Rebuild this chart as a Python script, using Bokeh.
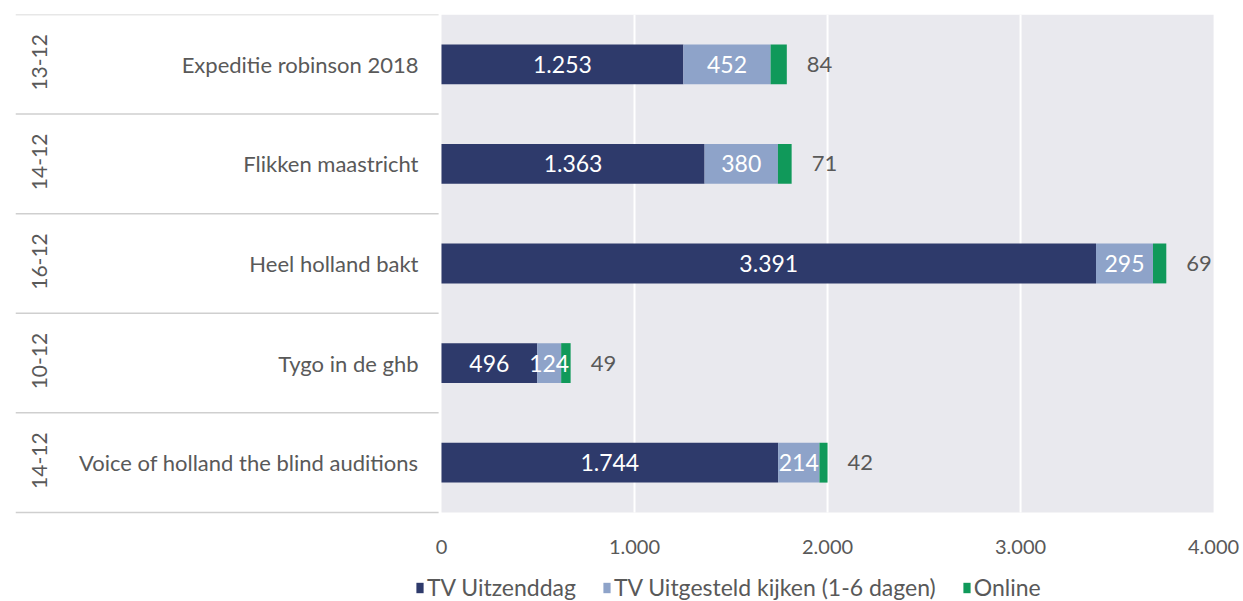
import math
from bokeh.plotting import figure
from bokeh.models import ColumnDataSource, Range1d, FixedTicker, Legend, LegendItem
from bokeh.core.properties import value
from bokeh.embed import file_html
from bokeh.resources import INLINE

# ---- data ----
dates = ["13-12", "14-12", "16-12", "10-12", "14-12"]
programs = ["Expeditie robinson 2018", "Flikken maastricht", "Heel holland bakt",
            "Tygo in de ghb", "Voice of holland the blind auditions"]
tv_day = [1253, 1363, 3391, 496, 1744]
tv_delayed = [452, 380, 295, 124, 214]
online = [84, 71, 69, 49, 42]
series_names = ["TV Uitzenddag", "TV Uitgesteld kijken (1-6 dagen)", "Online"]
x_ticks = [0, 1000, 2000, 3000, 4000]
x_tick_labels = ["0", "1.000", "2.000", "3.000", "4.000"]

# ---- style ----
NAVY = "#2E3A6B"
LIGHT = "#8EA3C9"
GREEN = "#10995A"
TXT = "#595959"
FONT = "Lato"
BG = "#E9E9EE"

n = len(programs)
ys = [n - 0.5 - i for i in range(n)]

def fmt(v):
    return f"{v:,}".replace(",", ".")

left1 = [0] * n
right1 = tv_day
left2 = tv_day
right2 = [a + b for a, b in zip(tv_day, tv_delayed)]
left3 = right2
right3 = [a + b for a, b in zip(right2, online)]

X_START, X_END = -2207, 4155
Y_START = -0.894  # room below the rows for the axis labels and legend

src = ColumnDataSource(dict(
    y=ys, l1=left1, r1=right1, l2=left2, r2=right2, l3=left3, r3=right3,
    m1=[(a + b) / 2 for a, b in zip(left1, right1)],
    m2=[(a + b) / 2 for a, b in zip(left2, right2)],
    t1=[fmt(v) for v in tv_day], t2=[fmt(v) for v in tv_delayed], t3=[fmt(v) for v in online],
    prog=programs, date=dates, zero=[0] * n, xs=[X_START] * n,
))

p = figure(width=1243, height=601, output_backend="svg", toolbar_location=None,
           x_range=Range1d(X_START, X_END), y_range=Range1d(Y_START, n),
           min_border_left=15, min_border_right=0, min_border_top=14, min_border_bottom=0)
p.background_fill_color = "white"
p.border_fill_color = "white"
p.outline_line_color = None
p.xgrid.visible = False
p.ygrid.visible = False
p.yaxis.visible = False

# gray plot area
p.quad(left=x_ticks[0], right=x_ticks[-1], bottom=0, top=n, fill_color=BG, line_color=None)
# white gridlines
p.segment(x0=x_ticks[1:-1], x1=x_ticks[1:-1], y0=[0] * 3, y1=[n] * 3, line_color="white", line_width=2)
# separator lines in the label area
seps = list(range(n + 1))
p.segment(x0=[X_START] * len(seps), x1=[-15] * len(seps), y0=seps, y1=seps,
          line_color="#CFCFCF", line_width=1.5)

h = 0.4
r1 = p.hbar(y="y", left="l1", right="r1", height=h, source=src, fill_color=NAVY, line_color=None)
r2 = p.hbar(y="y", left="l2", right="r2", height=h, source=src, fill_color=LIGHT, line_color=None)
r3 = p.hbar(y="y", left="l3", right="r3", height=h, source=src, fill_color=GREEN, line_color=None)

p.text(x="m1", y="y", text="t1", source=src, text_align="center", text_baseline="middle",
       text_color="white", text_font=value(FONT), text_font_size="23px")
p.text(x="m2", y="y", text="t2", source=src, text_align="center", text_baseline="middle",
       text_color="white", text_font=value(FONT), text_font_size="23px")
p.text(x="r3", y="y", text="t3", source=src, text_align="left", text_baseline="middle",
       x_offset=20, text_color=TXT, text_font=value(FONT), text_font_size="22px")

# category labels
p.text(x="zero", y="y", text="prog", source=src, text_align="right", text_baseline="middle",
       x_offset=-23, text_color=TXT, text_font=value(FONT), text_font_size="22px")
p.text(x="xs", y="y", text="date", source=src, text_align="center", text_baseline="middle",
       x_offset=24, y_offset=-2, angle=math.pi / 2, text_color=TXT, text_font=value(FONT),
       text_font_size="21px")

ax = p.xaxis[0]
ax.fixed_location = 0
ax.ticker = FixedTicker(ticks=x_ticks)
ax.major_label_overrides = {t: lab for t, lab in zip(x_ticks, x_tick_labels)}
ax.axis_line_color = None
ax.major_tick_line_color = None
ax.minor_tick_line_color = None
ax.major_label_standoff = 22
ax.major_label_text_color = TXT
ax.major_label_text_font = FONT
ax.major_label_text_font_size = "20px"

legend = Legend(items=[LegendItem(label=series_names[0], renderers=[r1]),
                       LegendItem(label=series_names[1], renderers=[r2]),
                       LegendItem(label=series_names[2], renderers=[r3])],
                orientation="horizontal", location=(400, 0),
                glyph_width=9, glyph_height=13, label_standoff=3, spacing=26,
                padding=0, margin=0, border_line_color=None, background_fill_alpha=0,
                label_text_color=TXT, label_text_font=FONT, label_text_font_size="23px")
p.add_layout(legend)

open("out.html", "w").write(file_html(p, INLINE))
